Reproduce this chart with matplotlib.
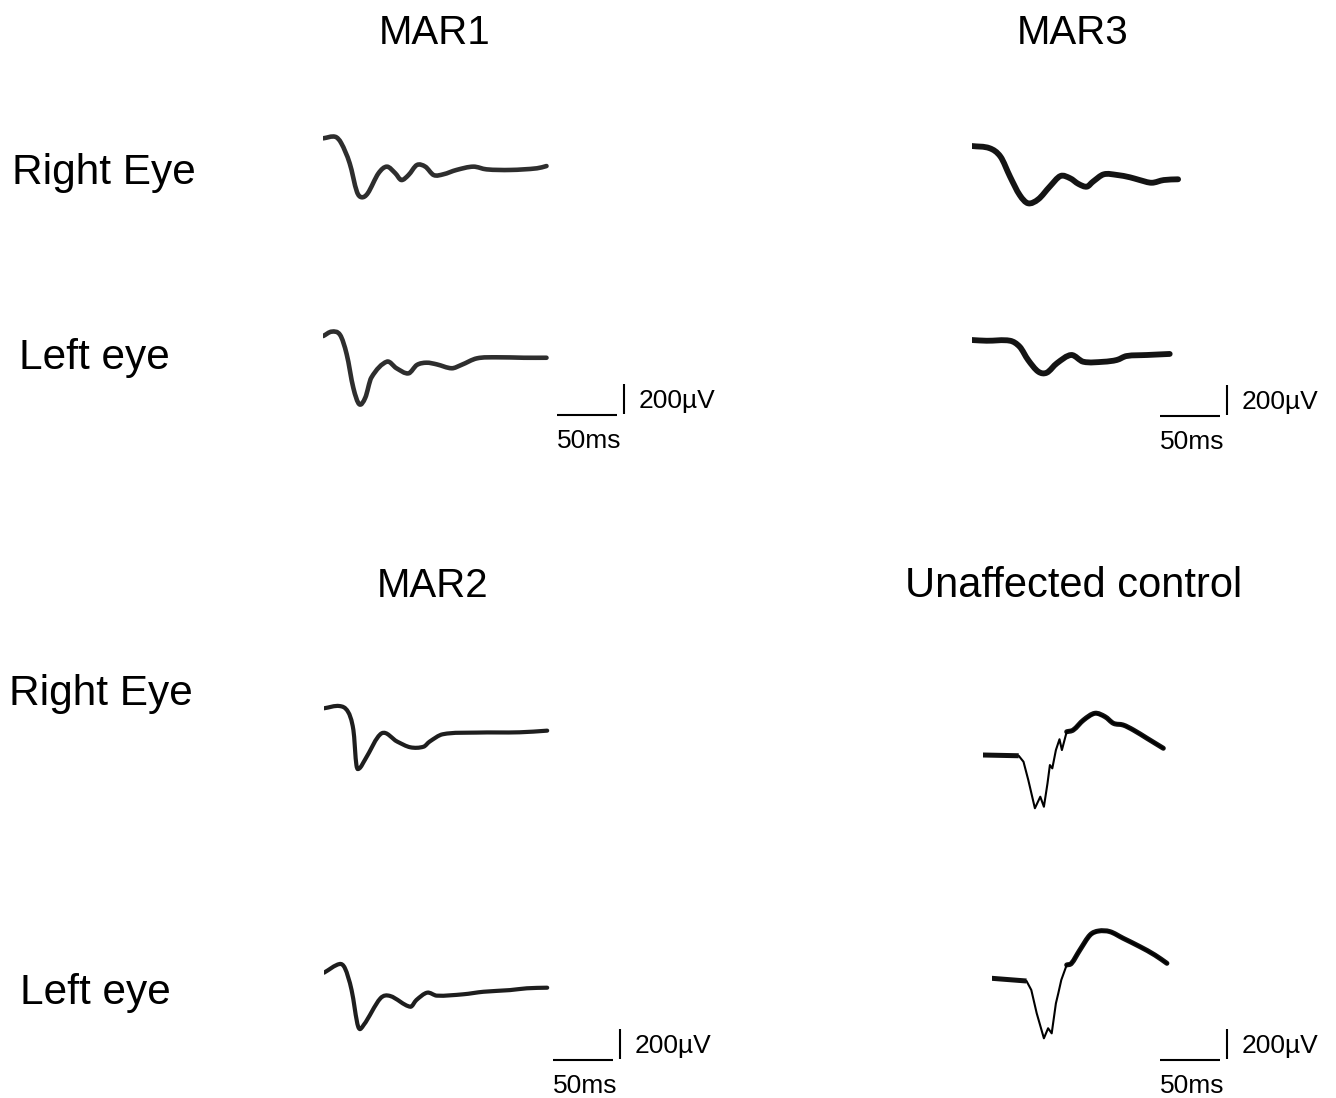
import matplotlib
matplotlib.use("Agg")
import matplotlib.pyplot as plt
from matplotlib.path import Path
from matplotlib.patches import PathPatch
import numpy as np

plt.rcParams["font.family"] = ["Liberation Sans", "DejaVu Sans"]

# traces: time (ms) from trace start, voltage (uV) relative to the start
MAR1_R_T = [0, 10, 15, 22, 28, 32, 37, 46, 53, 60, 65, 71, 78, 85, 92, 100, 111, 125, 136, 156, 178, 186]
MAR1_R_V = [0, 10, -33, -167, -356, -393, -367, -233, -189, -233, -278, -245, -178, -189, -245, -240, -211, -189, -207, -211, -200, -185]
MAR1_L_T = [0, 7, 14, 19.5, 25, 30, 35, 40, 53, 61, 71, 78, 86, 94.5, 107, 115, 128, 144.5, 167, 186]
MAR1_L_V = [0, 29, 7, -122, -345, -455, -411, -278, -171, -215, -249, -193, -178, -189, -215, -193, -149, -142, -145, -145]

MAR3_R_T = [0, 15, 24, 32, 40, 47, 55.5, 65, 74, 82, 89, 96, 101, 110, 121, 132, 140, 150, 160, 172]
MAR3_R_V = [0, -15, -71, -205, -327, -382, -355, -271, -200, -215, -253, -271, -238, -189, -193, -209, -227, -245, -227, -222]
MAR3_L_T = [0, 12.5, 32, 40, 47, 55.5, 62.5, 71, 83, 93, 110, 121, 129, 146, 165]
MAR3_L_V = [0, -5, -5, -45, -133, -211, -218, -155, -100, -145, -145, -133, -107, -100, -93]

MAR2_R_T = [0, 13, 20, 24.5, 27, 29.5, 34, 48, 61, 72, 83, 88, 99, 127, 163, 186]
MAR2_R_V = [0, 15, -23, -145, -378, -400, -345, -167, -222, -260, -256, -222, -173, -162, -160, -149]
MAR2_L_T = [0, 13, 17.5, 23, 28.5, 33, 47, 55, 72, 77, 86, 94, 116, 133, 155, 169, 186]
MAR2_L_V = [0, 58, 29, -116, -360, -349, -171, -155, -227, -182, -133, -153, -144, -127, -116, -104, -100]

CTRL_R_T = [0, 30, 34, 38, 43.5, 48, 51, 54, 56, 58, 61, 64, 66, 70, 75.5, 84, 93.5, 102, 109, 117, 125.5, 137, 150.5]
CTRL_R_V = [0, -5, -45, -167, -355, -278, -345, -189, -67, -89, 33, 105, 33, 155, 167, 233, 278, 255, 211, 200, 167, 111, 45]
CTRL_L_T = [0, 29, 33, 37.5, 43.5, 47, 50, 53.5, 55.5, 58, 62.5, 66.5, 73.5, 82, 89, 98.5, 109.5, 123.5, 136, 146]
CTRL_L_V = [0, -18, -78, -233, -400, -333, -367, -167, -100, -11, 89, 100, 189, 289, 315, 311, 267, 211, 155, 100]

PANEL_TITLES = ["MAR1", "MAR3", "MAR2", "Unaffected control"]
EYE_LABELS = ["Right Eye", "Left eye"]
BAR_MS = 50
BAR_UV = 200

# layout (pixels)
W, H = 1336, 1098
PX_PER_MS = 1.2
PX_PER_UV = 0.15
V_LO, V_HI = -500, 400
T_SPAN = 200


def trace_ax(fig, x0, y0):
    """Axes in ms / uV whose (0, 0) sits at pixel (x0, y0) from the top-left."""
    ax = fig.add_axes([x0 / W, (H - (y0 - V_LO * PX_PER_UV)) / H,
                       T_SPAN * PX_PER_MS / W, (V_HI - V_LO) * PX_PER_UV / H])
    ax.set_xlim(0, T_SPAN)
    ax.set_ylim(V_LO, V_HI)
    ax.axis("off")
    return ax


def scale_bar(fig, x0, y0):
    ax = fig.add_axes([x0 / W, (H - (y0 + 300 * PX_PER_UV)) / H,
                       100 * PX_PER_MS / W, 600 * PX_PER_UV / H])
    ax.set_xlim(0, 100)
    ax.set_ylim(-300, 300)
    ax.axis("off")
    ax.plot([0, BAR_MS], [0, 0], color="black", lw=1.5, solid_capstyle="butt")
    ax.plot([BAR_MS + 6, BAR_MS + 6], [10, 10 + BAR_UV], color="black", lw=1.5, solid_capstyle="butt")
    ax.text(68, 47, f"{BAR_UV}\u00b5V", fontsize=19, va="baseline", ha="left")
    ax.text(0, -220, f"{BAR_MS}ms", fontsize=19, va="baseline", ha="left")


def smooth_path(t, v):
    """Cubic Hermite curve through the points, drawn as Bezier segments."""
    t = np.asarray(t, float)
    v = np.asarray(v, float)
    n = len(t)
    m = np.zeros(n)
    m[1:-1] = (v[2:] - v[:-2]) / (t[2:] - t[:-2])
    m[0] = (v[1] - v[0]) / (t[1] - t[0])
    m[-1] = (v[-1] - v[-2]) / (t[-1] - t[-2])
    verts = [(t[0], v[0])]
    codes = [Path.MOVETO]
    for i in range(n - 1):
        h = (t[i + 1] - t[i]) / 3
        verts += [(t[i] + h, v[i] + m[i] * h), (t[i + 1] - h, v[i + 1] - m[i + 1] * h), (t[i + 1], v[i + 1])]
        codes += [Path.CURVE4] * 3
    return Path(verts, codes)


def draw(ax, t, v, color, lw):
    ax.add_patch(PathPatch(smooth_path(t, v), facecolor="none", edgecolor=color, lw=lw,
                           capstyle="round", joinstyle="round"))


def draw_ctrl(ax, t, v, t_a, t_b):
    t = np.asarray(t)
    v = np.asarray(v)
    ax.plot(t, v, color="black", lw=1.5, solid_joinstyle="round")
    pre = t <= t_a
    post = t >= t_b
    ax.plot(t[pre], v[pre], color="#111111", lw=3.6, solid_capstyle="butt")
    ax.add_patch(PathPatch(smooth_path(t[post], v[post]), facecolor="none", edgecolor="#111111",
                           lw=3.6, capstyle="round", joinstyle="round"))


fig = plt.figure(figsize=(W / 100, H / 100), dpi=100)

# titles and row labels
title_pos = [(435, 44), (1073, 44), (433, 597), (1074, 597)]
for name, (x, y) in zip(PANEL_TITLES, title_pos):
    fs = 30 if name.startswith("Unaffected") else 29
    fig.text(x / W, 1 - y / H, name, fontsize=fs, ha="center", va="baseline")

label_pos = [(12, 184), (19, 369), (9, 705), (20, 1004)]
for i, (x, y) in enumerate(label_pos):
    fig.text(x / W, 1 - y / H, EYE_LABELS[i % 2], fontsize=30.5, ha="left", va="baseline")

# MAR1
draw(trace_ax(fig, 323.3, 138.3), MAR1_R_T, MAR1_R_V, "#2e2e2e", 3.3)
draw(trace_ax(fig, 323.3, 336), MAR1_L_T, MAR1_L_V, "#2e2e2e", 3.3)
scale_bar(fig, 557, 415)

# MAR3
draw(trace_ax(fig, 971.7, 146), MAR3_R_T, MAR3_R_V, "#141414", 4.2)
draw(trace_ax(fig, 971.7, 340), MAR3_L_T, MAR3_L_V, "#141414", 4.2)
scale_bar(fig, 1160, 416)

# MAR2
draw(trace_ax(fig, 324, 708.3), MAR2_R_T, MAR2_R_V, "#1e1e1e", 3.0)
draw(trace_ax(fig, 324, 972.7), MAR2_L_T, MAR2_L_V, "#1e1e1e", 3.0)
scale_bar(fig, 553, 1060)

# unaffected control
draw_ctrl(trace_ax(fig, 982.7, 755), CTRL_R_T, CTRL_R_V, 30, 70)
draw_ctrl(trace_ax(fig, 991.7, 978.3), CTRL_L_T, CTRL_L_V, 29, 62.5)
scale_bar(fig, 1160, 1060)

fig.savefig("out.png", dpi=100, facecolor="white")
